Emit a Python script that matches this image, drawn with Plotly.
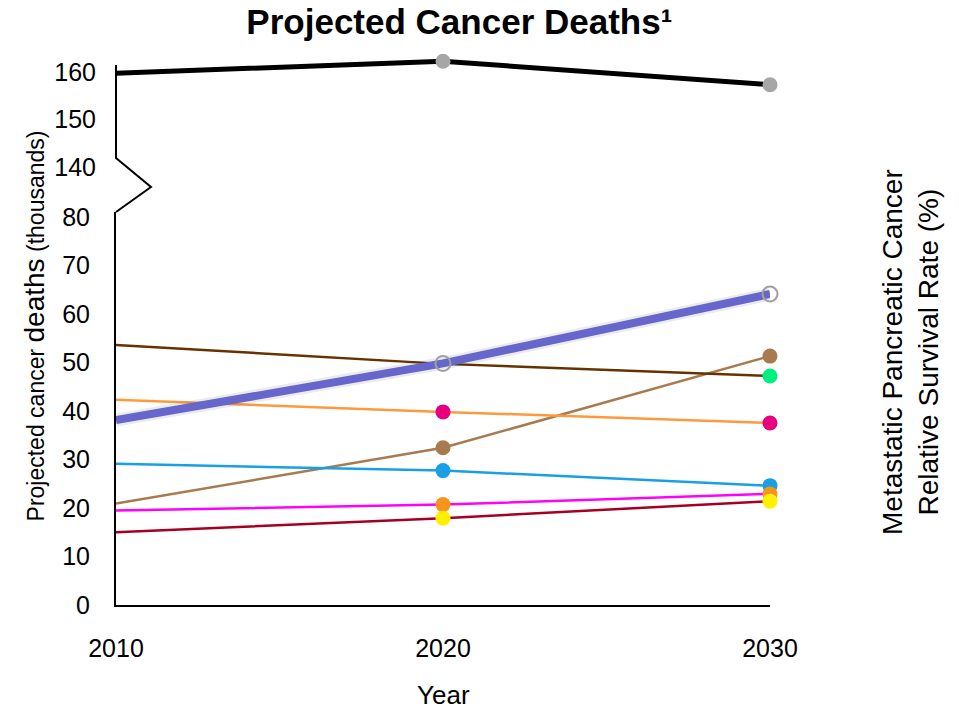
import plotly.graph_objects as go

# ---- data (thousands of deaths) ----
years = [2010, 2020, 2030]

pancreatic = [38.1, 49.8, 64.1]
colorectal_a = [53.6, 49.7, 47.2]
liver = [20.9, 32.4, 51.3]
breast = [42.3, 39.8, 37.5]
prostate = [29.1, 27.7, 24.6]
leukemia = [19.5, 20.7, 22.9]
bladder = [15.0, 17.9, 21.4]
lung = [159.7, 162.2, 157.3]

y_ticks_low = [0, 10, 20, 30, 40, 50, 60, 70, 80]
y_ticks_high = [140, 150, 160]
x_ticks = [2010, 2020, 2030]

FONT = "Liberation Sans, Arial, sans-serif"

fig = go.Figure()


def add_series(values, line_color, width, marker_colors, symbol="circle",
               axis="y", msize=15, marker_line=None):
    sizes = [0 if c is None else msize for c in marker_colors]
    colors = ["rgba(0,0,0,0)" if c is None else c for c in marker_colors]
    marker = dict(size=sizes, color=colors, symbol=symbol, opacity=1,
                  line=marker_line or dict(width=0))
    fig.add_trace(go.Scatter(
        x=years, y=values, yaxis=axis, mode="lines+markers",
        line=dict(color=line_color, width=width),
        marker=marker, cliponaxis=False, showlegend=False,
        hoverinfo="skip",
    ))


add_series(liver, "#A87B4F", 2.5, [None, "#A87B4F", "#A87B4F"])
add_series(colorectal_a, "#663300", 2.5, [None, None, "#00F080"])
add_series(breast, "#FF9A3C", 2.5, [None, "#E6007E", "#E6007E"])
add_series(prostate, "#18A0E6", 2.5, [None, "#18A0E6", "#18A0E6"])
add_series(leukemia, "#FF00FF", 2.5, [None, "#F7941D", "#F7941D"])
add_series(bladder, "#A50021", 2.5, [None, "#FFF000", "#FFF000"])

# soft shadow under the pancreatic trend
fig.add_trace(go.Scatter(
    x=years, y=pancreatic, mode="lines",
    line=dict(color="rgba(0,0,0,0.08)", width=13),
    cliponaxis=False, showlegend=False, hoverinfo="skip",
))
add_series(pancreatic, "#6666CC", 8, [None, "#A0A0A0", "#A0A0A0"],
           symbol="circle-open", msize=15,
           marker_line=dict(color="#A0A0A0", width=2))

add_series(lung, "#000000", 5, [None, "#A6A6A6", "#A6A6A6"], axis="y2")

fig.update_layout(
    width=959, height=709,
    margin=dict(l=116, r=189, t=55, b=104),
    paper_bgcolor="white", plot_bgcolor="white",
    font=dict(family=FONT, color="black", size=25),
    title=dict(
        text="<b>Projected Cancer Deaths¹</b>",
        x=0.479, xanchor="center", y=0.969, yanchor="middle",
        font=dict(size=35, family=FONT, color="black"),
    ),
    xaxis=dict(
        range=[2010, 2030], tickvals=x_ticks, ticktext=[str(v) for v in x_ticks],
        showline=True, linecolor="black", linewidth=2, showgrid=False,
        zeroline=False, ticks="", ticklabelstandoff=20, anchor="y",
        automargin=False, tickfont=dict(size=25),
    ),
    yaxis=dict(
        domain=[0, 0.7145], range=[0, 81], tickvals=y_ticks_low,
        showline=True, linecolor="black", linewidth=2, showgrid=False,
        zeroline=False, ticks="", ticklabelstandoff=19, anchor="x",
        automargin=False, tickfont=dict(size=25),
    ),
    yaxis2=dict(
        domain=[0.7951, 1.0], range=[140, 163.5], tickvals=y_ticks_high,
        showline=False, showgrid=False, zeroline=False, ticks="",
        ticklabelstandoff=19, anchor="x", automargin=False,
        tickfont=dict(size=25),
    ),
    shapes=[
        # upper axis segment and the axis-break zigzag
        dict(type="path", xref="paper", yref="paper",
             path="M 0 0.9818 L 0 0.8127 L 0.0535 0.76 L 0 0.7145",
             line=dict(color="black", width=2)),
    ],
    annotations=[
        dict(
            text="Year", xref="paper", yref="paper", x=0.5, y=-0.1636,
            xanchor="center", yanchor="middle", showarrow=False,
            font=dict(family=FONT, color="black", size=26),
        ),
        dict(
            text="<span style='font-size:23px'>Projected cancer </span>"
                 "<span style='font-size:28px'>deaths</span>"
                 "<span style='font-size:23px'> (thousands)</span>",
            xref="paper", yref="paper", x=-0.1239, y=0.5082,
            xanchor="center", yanchor="middle", textangle=-90,
            showarrow=False, font=dict(family=FONT, color="black"),
        ),
        dict(
            text="Metastatic Pancreatic Cancer<br>Relative Survival Rate (%)",
            xref="paper", yref="paper", x=1.214, y=0.46,
            xanchor="center", yanchor="middle", textangle=-90,
            showarrow=False, font=dict(family=FONT, color="black", size=28),
        ),
    ],
)

fig.write_html("out.html")
